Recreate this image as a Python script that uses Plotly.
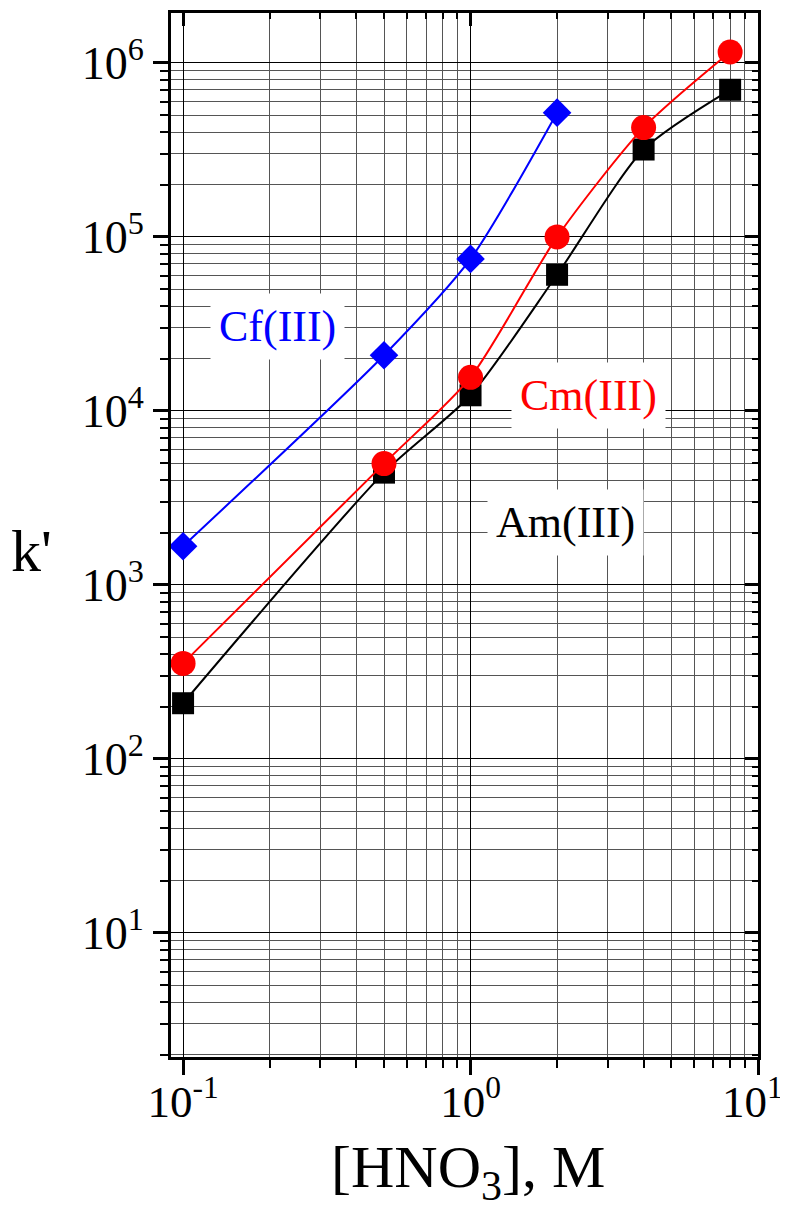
import plotly.graph_objects as go

# [HNO3], M
hno3_am = [0.1, 0.5, 1, 2, 4, 8]
hno3_cm = [0.1, 0.5, 1, 2, 4, 8]
hno3_cf = [0.1, 0.5, 1, 2]

# retention factor k'
k_am = [209, 4420, 12300, 60600, 318000, 701000]
k_cm = [354, 4980, 15600, 100000, 425000, 1156000]
k_cf = [1670, 20900, 74800, 518000]

x_major = [0.1, 1, 10]
# trailing space keeps the last label inside the window
x_major_text = ["10<sup>-1</sup>", "10<sup>0</sup>", "10<sup>1</sup>&nbsp;"]
y_major = [10, 100, 1e3, 1e4, 1e5, 1e6]
y_major_text = ["10<sup>1</sup>", "10<sup>2</sup>", "10<sup>3</sup>",
                "10<sup>4</sup>", "10<sup>5</sup>", "10<sup>6</sup>"]

x_minor = [m * 10.0 ** e for e in (-2, -1, 0) for m in range(2, 10)]
y_minor = [m * 10.0 ** e for e in range(0, 7) for m in range(2, 10)]

FONT = "Liberation Serif"
xr = [-1.042, 1.0]
yr = [0.287, 6.287]

fig = go.Figure()

series = [
    ("Am(III)", hno3_am, k_am, "black", "square", 22),
    ("Cm(III)", hno3_cm, k_cm, "red", "circle", 25),
    ("Cf(III)", hno3_cf, k_cf, "blue", "diamond", 22),
]
for name, xs, ys, col, sym, sz in series:
    fig.add_trace(go.Scatter(
        x=xs, y=ys, name=name, mode="lines+markers",
        line=dict(color=col, width=2, shape="spline", smoothing=0.7),
        marker=dict(color=col, symbol=sym, size=sz),
        showlegend=False,
    ))

# invisible trace so the mirrored top/right axes are drawn
fig.add_trace(go.Scatter(x=[1], y=[1000], xaxis="x2", yaxis="y2",
                         mode="markers", marker=dict(opacity=0),
                         showlegend=False, hoverinfo="skip"))

axis_common = dict(type="log", showline=True, linewidth=3, linecolor="black",
                   zeroline=False, tickcolor="black", tickwidth=3,
                   automargin=False)

# page body has an 8px margin, so margins are shifted by 8px
fig.update_layout(
    width=788, height=1205,
    margin=dict(l=163, r=38, t=5, b=156, autoexpand=False),
    plot_bgcolor="white", paper_bgcolor="white",
    font=dict(family=FONT, color="black"),
    xaxis=dict(
        **axis_common, range=xr, ticks="outside", ticklen=15,
        tickvals=x_major, ticktext=x_major_text, ticklabelstandoff=-12,
        ticklabeloverflow="allow",
        tickfont=dict(family=FONT, size=45, color="black"),
        showgrid=True, gridcolor="black", gridwidth=1,
        minor=dict(tickvals=x_minor, ticks="outside", ticklen=8,
                   tickwidth=2, tickcolor="black",
                   showgrid=True, gridcolor="#555555", gridwidth=1),
    ),
    yaxis=dict(
        **axis_common, range=yr, ticks="outside", ticklen=15,
        tickvals=y_major, ticktext=y_major_text,
        tickfont=dict(family=FONT, size=46, color="black"),
        showgrid=True, gridcolor="black", gridwidth=1,
        minor=dict(tickvals=y_minor, ticks="outside", ticklen=8,
                   tickwidth=2, tickcolor="black",
                   showgrid=True, gridcolor="#555555", gridwidth=1),
    ),
    xaxis2=dict(
        **axis_common, range=xr, overlaying="x", side="top", anchor="y",
        ticks="inside", ticklen=13, tickvals=x_major, showticklabels=False,
        showgrid=False,
        minor=dict(tickvals=x_minor, ticks="inside", ticklen=6,
                   tickwidth=2, tickcolor="black", showgrid=False),
    ),
    yaxis2=dict(
        **axis_common, range=yr, overlaying="y", side="right", anchor="x",
        ticks="inside", ticklen=13, tickvals=y_major, showticklabels=False,
        showgrid=False,
        minor=dict(tickvals=y_minor, ticks="inside", ticklen=6,
                   tickwidth=2, tickcolor="black", showgrid=False),
    ),
)

labels = [
    ("Cf(III)", -0.673, 4.483, "blue"),
    ("Cm(III)", 0.412, 4.086, "red"),
    ("Am(III)", 0.332, 3.356, "black"),
]
for txt, lx, ly, col in labels:
    fig.add_annotation(x=lx, y=ly, xref="x", yref="y", text=txt,
                       showarrow=False, bgcolor="white", borderpad=8,
                       font=dict(family=FONT, size=44, color=col))

fig.add_annotation(x=-0.237, y=0.485, xref="paper", yref="paper", text="k'",
                   xanchor="center", yanchor="middle", showarrow=False,
                   font=dict(family=FONT, size=60, color="black"))
fig.add_annotation(x=0.506, y=-0.1475, xref="paper", yref="paper",
                   text="[HNO<sub>3</sub>], M", xanchor="center", yanchor="bottom",
                   showarrow=False,
                   font=dict(family=FONT, size=60, color="black"))

fig.write_html("out.html")
